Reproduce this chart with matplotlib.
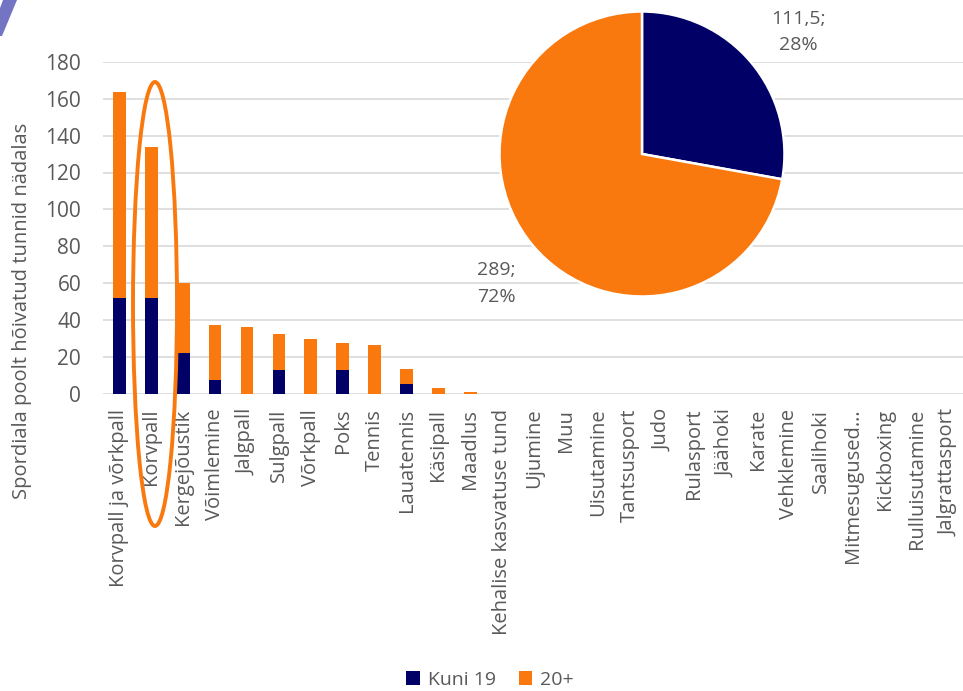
import matplotlib
matplotlib.use("Agg")
from matplotlib import pyplot as plt
from matplotlib.patches import Ellipse, Polygon
import numpy as np

# Sports (x axis categories)
categories = [
    "Korvpall ja võrkpall", "Korvpall", "Kergejõustik", "Võimlemine", "Jalgpall",
    "Sulgpall", "Võrkpall", "Poks", "Tennis", "Lauatennis", "Käsipall", "Maadlus",
    "Kehalise kasvatuse tund", "Ujumine", "Muu", "Uisutamine", "Tantsusport", "Judo",
    "Rulasport", "Jäähoki", "Karate", "Vehklemine", "Saalihoki", "Mitmesugused…",
    "Kickboxing", "Rulluisutamine", "Jalgrattasport",
]

# Hours per week, by age group
kuni19 = [52, 52, 22, 7.5, 0, 12.5, 0, 12.5, 0, 5, 0, 0,
          0, 0, 0, 0, 0, 0, 0, 0, 0, 0, 0, 0, 0, 0, 0]
over20 = [111.5, 82, 38, 29.5, 36, 20, 29.5, 15, 26.5, 8.5, 3, 1,
          0, 0, 0, 0, 0, 0, 0, 0, 0, 0, 0, 0, 0, 0, 0]

series_names = ["Kuni 19", "20+"]
yticks = [0, 20, 40, 60, 80, 100, 120, 140, 160, 180]

# Pie: totals without "Korvpall ja võrkpall"
pie_values = [111.5, 289]

navy = "#000066"
orange = "#F9790F"
grey = "#595959"

plt.rcParams["font.family"] = ["Open Sans", "DejaVu Sans"]

W, H = 963, 691
fig = plt.figure(figsize=(W / 100, H / 100), dpi=100)
fig.patch.set_facecolor("white")

# Bar axes (pixel layout)
ax = fig.add_axes([103.4 / W, 1 - 393.5 / H, (965 - 103.4) / W, 331.5 / H])
x = np.arange(len(categories))
ax.bar(x, kuni19, width=0.4, color=navy, label=series_names[0], zorder=2)
ax.bar(x, over20, width=0.4, bottom=kuni19, color=orange, label=series_names[1], zorder=2)

ax.set_xlim(-0.5, len(categories) - 0.5)
ax.set_ylim(0, 180)
ax.set_yticks(yticks)
ax.set_xticks(x)
ax.set_xticklabels(categories, rotation=90, fontsize=14.5, color=grey)
ax.tick_params(axis="y", length=0, pad=16, labelsize=15, labelcolor=grey)
ax.tick_params(axis="x", length=0, pad=11)
ax.grid(axis="y", color="#d9d9d9", linewidth=1.2, zorder=0)
ax.set_axisbelow(True)
for s in ax.spines.values():
    s.set_visible(False)

fig.text(22 / W, 1 - 311 / H, "Spordiala poolt hõivatud tunnid nädalas",
         rotation=90, ha="center", va="center", fontsize=14.5, color=grey)

# Pie inset
r = 142.5
pax = fig.add_axes([(642 - r) / W, 1 - (154 + r) / H, 2 * r / W, 2 * r / H])
pax.pie(pie_values, colors=[navy, orange], startangle=90, counterclock=False,
        wedgeprops=dict(edgecolor="white", linewidth=1.8))
pax.set_xlim(-1, 1)
pax.set_ylim(-1, 1)
pax.set_aspect("equal")
pax.patch.set_visible(False)

total = sum(pie_values)
label_pos = [(1.095, 0.855), (-1.025, -0.91)]
for v, (lx, ly) in zip(pie_values, label_pos):
    num = ("%g" % v).replace(".", ",")
    pct = "%d%%" % round(100 * v / total)
    pax.text(lx, ly, num + ";\n" + pct, ha="center", va="center", fontsize=14,
             color=grey, linespacing=1.6, clip_on=False)

# Orange highlight ellipse round "Korvpall"
fig.patches.append(Ellipse((155 / W, 1 - 304 / H), 44 / W, 444 / H,
                           transform=fig.transFigure, fill=False,
                           edgecolor=orange, linewidth=2.8, zorder=5))

# Purple corner decoration
fig.patches.append(Polygon([(3 / W, 1), (17 / W, 1), (2 / W, 1 - 36 / H), (0, 1 - 36 / H), (0, 1 - 8 / H)],
                           closed=True, transform=fig.transFigure,
                           facecolor="#7474c4", edgecolor="none"))

fig.legend(*ax.get_legend_handles_labels(), loc="center", ncol=2,
           bbox_to_anchor=(490 / W, 1 - 680 / H), frameon=False, fontsize=14,
           handlelength=0.7, handleheight=0.7, handletextpad=0.4, columnspacing=1.2,
           labelcolor=grey, borderpad=0.2)

fig.savefig("out.png", dpi=100)
